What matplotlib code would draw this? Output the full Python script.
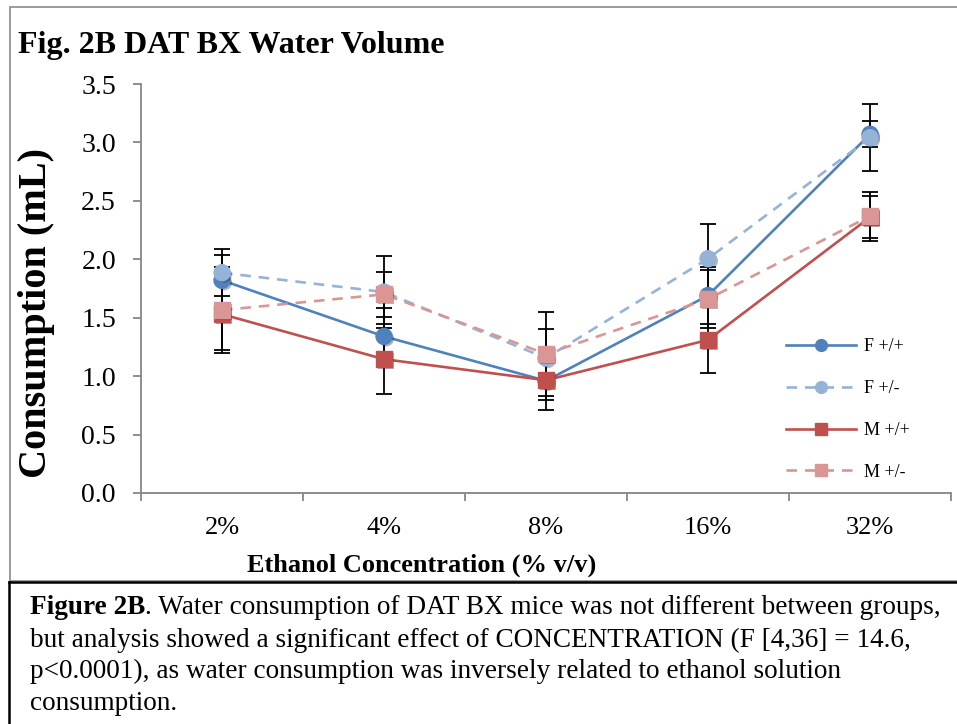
import matplotlib
matplotlib.use("Agg")
import matplotlib.pyplot as plt
from matplotlib.lines import Line2D
from matplotlib.patches import Rectangle
import matplotlib.patheffects as pe

plt.rcParams['font.family'] = ['Liberation Serif', 'DejaVu Serif']

# Ethanol concentrations tested
concentrations = ["2%", "4%", "8%", "16%", "32%"]

# Mean water consumption (mL) per group
f_wt = [1.82, 1.34, 0.96, 1.69, 3.07]
f_het = [1.885, 1.72, 1.155, 2.005, 3.04]
m_wt = [1.53, 1.145, 0.965, 1.31, 2.36]
m_het = [1.565, 1.70, 1.19, 1.66, 2.37]

# Standard error of the mean per group
f_wt_err = [0.22, 0.24, 0.25, 0.24, 0.11]
f_het_err = [0.20, 0.31, 0.25, 0.30, 0.285]
m_wt_err = [0.31, 0.30, 0.17, 0.285, 0.18]
m_het_err = [0.37, 0.19, 0.36, 0.25, 0.21]

group_labels = ["F +/+", "F +/-", "M +/+", "M +/-"]

W, H = 957, 724
fig = plt.figure(figsize=(W / 100, H / 100), dpi=100)


def fx(px):
    return px / W


def fy(py):
    return 1 - py / H


# Outer chart frame (grey) and caption frame (black)
fig.patches.append(Rectangle((fx(10), fy(581)), fx(960) - fx(10), fy(7) - fy(581),
                             transform=fig.transFigure, fill=False,
                             edgecolor="#8a8a8a", lw=1.2, zorder=0))
fig.add_artist(Line2D([fx(9), 1.0], [fy(582), fy(582)], transform=fig.transFigure,
                      color="black", lw=1.8))
fig.add_artist(Line2D([fx(9), fx(9)], [fy(582), 0.0], transform=fig.transFigure,
                      color="black", lw=1.8))

ax = fig.add_axes([fx(141), fy(493), fx(951) - fx(141), fy(84) - fy(493)])

x = list(range(len(concentrations)))
series = [
    (f_wt, f_wt_err, "#4F81BD", "-", "o"),
    (f_het, f_het_err, "#95B3D7", (0, (4, 3)), "o"),
    (m_wt, m_wt_err, "#C0504D", "-", "s"),
    (m_het, m_het_err, "#D99694", (0, (4, 3)), "s"),
]

shadow = [pe.SimplePatchShadow(offset=(1.5, -1.5), alpha=0.35), pe.Normal()]

for i, (vals, errs, color, ls, mk) in enumerate(series):
    ax.errorbar(x, vals, yerr=errs, fmt="none", ecolor="black", elinewidth=1.3,
                capsize=5.5, capthick=1.3, zorder=2)
    ax.plot(x, vals, color=color, lw=1.9, linestyle=ls, zorder=3 + i * 0.1)
    ax.plot(x, vals, linestyle="none", marker=mk, markersize=11.5,
            markerfacecolor=color, markeredgecolor=color, zorder=4 + i * 0.1,
            path_effects=shadow)

ax.set_xlim(-0.5, len(concentrations) - 0.5)
ax.set_ylim(0, 3.5)
ax.set_yticks([0.0, 0.5, 1.0, 1.5, 2.0, 2.5, 3.0, 3.5])
ax.set_yticklabels([f"{v:.1f}" for v in ax.get_yticks()])
ax.set_xticks(x)
ax.set_xticklabels(concentrations)
ax.set_xticks([v - 0.5 for v in range(len(concentrations) + 1)], minor=True)

grey = "#868686"
for s in ("top", "right"):
    ax.spines[s].set_visible(False)
for s in ("left", "bottom"):
    ax.spines[s].set_color(grey)
    ax.spines[s].set_linewidth(1.3)

ax.tick_params(axis="y", direction="out", length=6, width=1.3, color=grey,
               labelsize=20, pad=12)
ax.tick_params(axis="x", which="major", length=0, labelsize=19, pad=17)
ax.tick_params(axis="x", which="minor", direction="out", length=6, width=1.3,
               color=grey)

handles = []
for (vals, errs, color, ls, mk), lab in zip(series, group_labels):
    handles.append(Line2D([], [], color=color, lw=1.9, linestyle=ls, marker=mk,
                          markersize=8.5, markerfacecolor=color,
                          markeredgecolor=color))
ax.legend(handles, group_labels, loc="upper left",
          bbox_to_anchor=(fx(786), fy(338)), bbox_transform=fig.transFigure,
          frameon=False, fontsize=13, handlelength=3.9, handletextpad=0.4,
          labelspacing=1.38, borderpad=0, borderaxespad=0)

fig.text(fx(18), fy(46), "Fig. 2B DAT BX Water Volume", fontsize=23,
         fontweight="bold", va="center", ha="left")
fig.text(fx(37), fy(313), "Consumption (mL)", fontsize=29, fontweight="bold",
         rotation=90, va="center", ha="center")
fig.text(fx(422), fy(565), "Ethanol Concentration (% v/v)", fontsize=19,
         fontweight="bold", va="center", ha="center")

# Caption below the chart
cap_size = 19.6
renderer = fig.canvas.get_renderer()
t0 = fig.text(fx(30), fy(608), "Figure 2B", fontsize=cap_size, fontweight="bold",
              va="center", ha="left")
bb = t0.get_window_extent(renderer=renderer)
fig.text(bb.x1 / W, fy(608),
         ". Water consumption of DAT BX mice was not different between groups,",
         fontsize=cap_size, va="center", ha="left")
caption_rest = [
    "but analysis showed a significant effect of CONCENTRATION (F [4,36] = 14.6,",
    "p<0.0001), as water consumption was inversely related to ethanol solution",
    "consumption.",
]
for k, line in enumerate(caption_rest):
    fig.text(fx(30), fy(640 + 31.5 * k), line, fontsize=cap_size, va="center",
             ha="left")

fig.savefig("out.png", dpi=100)
